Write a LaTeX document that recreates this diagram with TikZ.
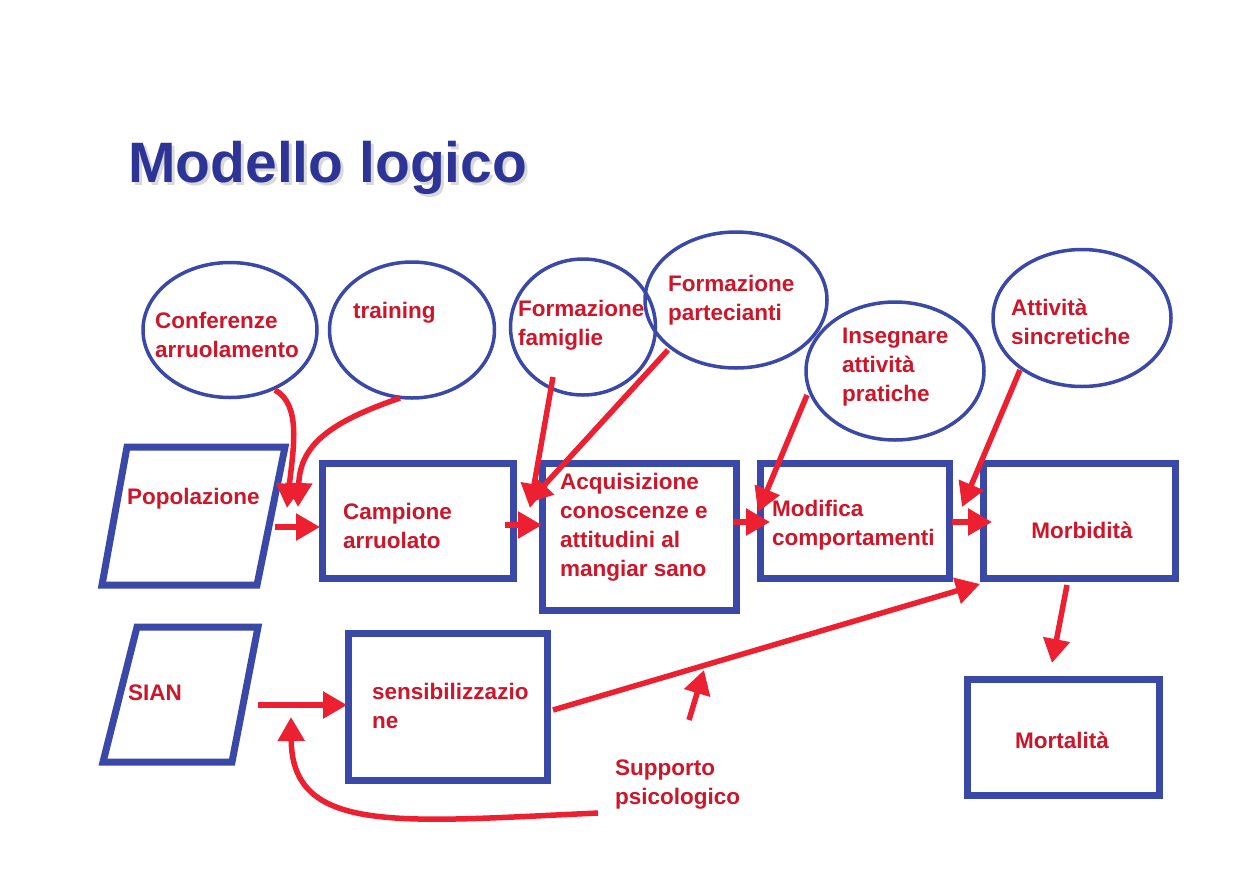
\documentclass[tikz,border=0pt]{standalone}
\usepackage{fontspec}
\setmainfont{Liberation Sans}
\usetikzlibrary{arrows.meta,shapes.geometric}
\definecolor{bl}{RGB}{58,72,168}
\definecolor{tred}{RGB}{205,22,42}
\definecolor{ared}{RGB}{236,32,48}
\definecolor{ttl}{RGB}{46,52,150}
\tikzset{
  box/.style={draw=bl,line width=7,minimum width=#1,inner sep=0},
  ell/.style={draw=bl,line width=3.5,ellipse,inner sep=0},
  lab/.style={text=tred,font=\fontsize{22.5}{29}\selectfont\bfseries,align=left,inner sep=0},
  arr/.style={draw=ared,line width=5.5,-{Triangle[length=24,width=26]}},
}
\begin{document}
\begin{tikzpicture}[x=1pt,y=-1pt]
\useasboundingbox[fill=white] (0,0) rectangle (1256,895);
% title
\node[anchor=base west,text=gray!30,font=\fontsize{57}{60}\selectfont\bfseries,inner sep=0] (tsh) at (131,185) {Modello logico};
\node[anchor=base west,text=ttl,font=\fontsize{57}{60}\selectfont\bfseries,inner sep=0] (title) at (128,182) {Modello logico};
% ellipses
\node[ell,minimum width=174,minimum height=135] (e1) at (230,330) {};
\node[ell,minimum width=165,minimum height=136] (e2) at (412,330) {};
\node[ell,minimum width=145,minimum height=136] (e3) at (583,327) {};
\node[ell,minimum width=182,minimum height=136] (e4) at (736,300) {};
\node[ell,minimum width=178,minimum height=138] (e5) at (895,371) {};
\node[ell,minimum width=178,minimum height=137] (e6) at (1082,318) {};
\node[lab,anchor=base west] (t1) at (155,357) {Conferenze\\arruolamento};
\node[lab,anchor=base west] (t2) at (353,318) {training};
\node[lab,anchor=base west] (t3) at (518,345) {Formazione\\famiglie};
\node[lab,anchor=base west] (t4) at (668,320) {Formazione\\partecianti};
\node[lab,anchor=base west] (t5) at (842,401) {Insegnare\\attività\\pratiche};
\node[lab,anchor=base west] (t6) at (1011,344) {Attività\\sincretiche};
% parallelograms
\draw[draw=bl,line width=7] (102,585) -- (127,447) -- (285,447) -- (257,585) -- cycle;
\coordinate (pop) at (194,516);
\node[lab,anchor=base west] (tpop) at (127,504) {Popolazione};
\draw[draw=bl,line width=7] (103,762) -- (137,627) -- (258,627) -- (232,762) -- cycle;
\coordinate (sian) at (180,695);
\node[lab,anchor=base west] (tsian) at (128,700) {SIAN};
% boxes
\node[box=191,minimum height=115] (camp) at (417.5,520.5) {};
\node[lab,anchor=base west] (tcamp) at (343,548) {Campione\\arruolato};
\node[box=194,minimum height=147] (acq) at (639,536.5) {};
\node[lab,anchor=base west] (tacq) at (560,576) {Acquisizione\\conoscenze e\\attitudini al\\mangiar sano};
\node[box=189,minimum height=115] (mod) at (854.5,520.5) {};
\node[lab,anchor=base west] (tmod) at (772,545) {Modifica\\comportamenti};
\node[box=192,minimum height=115] (morb) at (1079,520.5) {};
\node[lab] (tmorb) at (1082,530) {Morbidità};
\node[box=199,minimum height=147] (sens) at (447.5,706.5) {};
\node[lab,anchor=base west] (tsens) at (372,728) {sensibilizzazio\\ne};
\node[box=192,minimum height=116] (mort) at (1063,737) {};
\node[lab] (tmort) at (1062,740) {Mortalità};
\node[lab,anchor=base west] (tsup) at (615,804) {Supporto\\psicologico};
% arrow end points
\coordinate (a1) at (275,527); \coordinate (b1) at (320,527);
\coordinate (a2) at (505,525); \coordinate (b2) at (542,525);
\coordinate (a3) at (733,522); \coordinate (b3) at (770,522);
\coordinate (a4) at (952,522); \coordinate (b4) at (992,522);
\coordinate (c1) at (275,390); \coordinate (d1) at (287,508);
\coordinate (c2) at (400,398); \coordinate (d2) at (298,507);
\coordinate (c3) at (553,377); \coordinate (d3) at (530,508);
\coordinate (c4) at (668,350); \coordinate (d4) at (528,503);
\coordinate (c5) at (807,395); \coordinate (d5) at (758,512);
\coordinate (c6) at (1020,370); \coordinate (d6) at (962,507);
\coordinate (s1) at (553,710); \coordinate (s2) at (980,584);
\coordinate (p1) at (689,720); \coordinate (p2) at (704,670);
\coordinate (m1) at (1067,585); \coordinate (m2) at (1052,663);
\coordinate (g1) at (258,705); \coordinate (g2) at (347,705);
\coordinate (h1) at (598,813); \coordinate (h2) at (291,717);
% arrows
\draw[arr] (a1) -- (b1);
\draw[arr] (a2) -- (b2);
\draw[arr] (a3) -- (b3);
\draw[arr] (a4) -- (b4);
\draw[arr] (c1) .. controls (302,405) and (293,450) .. (d1);
\draw[arr] (c2) .. controls (330,422) and (300,445) .. (d2);
\draw[arr] (c3) -- (d3);
\draw[arr] (c4) -- (d4);
\draw[arr] (c5) -- (d5);
\draw[arr] (c6) -- (d6);
\draw[arr] (s1) -- (s2);
\draw[arr] (p1) -- (p2);
\draw[arr] (m1) -- (m2);
\draw[arr] (g1) -- (g2);
\draw[arr] (h1) .. controls (400,822) and (292,835) .. (h2);
\end{tikzpicture}
\end{document}
